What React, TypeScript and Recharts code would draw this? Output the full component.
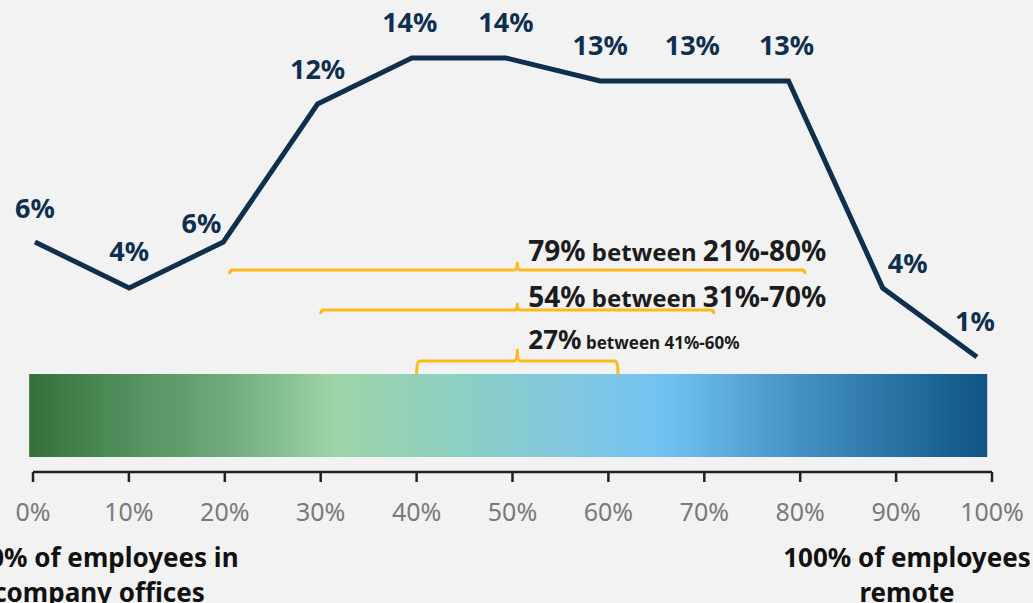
import React from 'react';
import {
  ComposedChart,
  Line,
  XAxis,
  YAxis,
  ReferenceArea,
  ReferenceLine,
  LabelList,
} from 'recharts';

// Share of time worked remotely (x) vs share of employees (y)
const remoteShare = [0, 10, 20, 30, 40, 50, 60, 70, 80, 90, 100];
const employeeShare = [6, 4, 6, 12, 14, 14, 13, 13, 13, 4, 1];
const axisTicks = [0, 10, 20, 30, 40, 50, 60, 70, 80, 90, 100];

// Summary ranges drawn as braces above the gradient bar
const rangeLow = [20.5, 30, 40];
const rangeHigh = [80.5, 71, 61];
const rangeTotals = ['79%', '54%', '27%'];
const rangeNames = ['21%-80%', '31%-70%', '41%-60%'];

const leftCaption = ['100% of employees in', 'company offices'];
const rightCaption = ['100% of employees', 'remote'];

const rows = remoteShare.map((x, i) => ({ x, share: employeeShare[i] }));

const FONT = '"Noto Sans", "Open Sans", sans-serif';
const NAVY = '#0f2f4e';
const GOLD = '#FFB81C';

// layout of each brace: level (y units), hook length, notch height, label gap, font sizes
const braceStyle = [
  { level: 4.78, hook: 4, notch: 7, gap: 9, big: 28, small: 24, range: 28 },
  { level: 3.04, hook: 4, notch: 6, gap: 3, big: 28, small: 24, range: 28 },
  { level: 0.83, hook: 13, notch: 11, gap: 12, big: 26, small: 17, range: 17 },
];

// label placement relative to each point
const labelShift: [number, number][] = [
  [0, -35], [0, -38], [-22, -20], [0, -36], [-2, -37], [0, -37],
  [0, -37], [-2, -37], [-2, -37], [25, -26], [-2, -37],
];

const renderPointLabel = (props: any) => {
  const { x, y, value, index } = props;
  const [dx, dy] = labelShift[index] || [0, -36];
  return (
    <text
      x={x + dx}
      y={y + dy}
      textAnchor="middle"
      dominantBaseline="central"
      fill={NAVY}
      fontFamily={FONT}
      fontWeight={700}
      fontSize={27}
    >
      {value}%
    </text>
  );
};

const makeBrace = (i: number) => (props: any) => {
  const { x1, x2, y1 } = props;
  const s = braceStyle[i];
  const xL = Math.min(x1, x2);
  const xR = Math.max(x1, x2);
  const yL = y1;
  const cx = (xL + xR) / 2;
  const r = 3;
  const d =
    `M ${xL} ${yL + s.hook} Q ${xL} ${yL} ${xL + r} ${yL} ` +
    `L ${cx - r} ${yL} Q ${cx} ${yL} ${cx} ${yL - s.notch} ` +
    `Q ${cx} ${yL} ${cx + r} ${yL} L ${xR - r} ${yL} ` +
    `Q ${xR} ${yL} ${xR} ${yL + s.hook}`;
  return (
    <g>
      <path d={d} fill="none" stroke={GOLD} strokeWidth={3} strokeLinejoin="round" />
      <text
        x={cx + 11}
        y={yL - s.gap}
        fill="#1c1c1c"
        fontFamily={FONT}
        fontWeight={700}
      >
        <tspan fontSize={s.big}>{rangeTotals[i]}</tspan>
        <tspan fontSize={s.small}> between </tspan>
        <tspan fontSize={s.range}>{rangeNames[i]}</tspan>
      </text>
    </g>
  );
};

const renderTick = (props: any) => {
  const { x, y, payload } = props;
  const v = payload.value;
  const caption = v === 0 ? leftCaption : v === 100 ? rightCaption : null;
  const cx = v === 0 ? x + 66 : x - 85;
  return (
    <g>
      <text
        x={x}
        y={y + 27}
        textAnchor="middle"
        dominantBaseline="central"
        fill="#7a7a7a"
        fontFamily={FONT}
        fontSize={25}
      >
        {v}%
      </text>
      {caption &&
        caption.map((line, k) => (
          <text
            key={k}
            x={cx}
            y={y + 73 + k * 35}
            textAnchor="middle"
            dominantBaseline="central"
            fill="#111"
            fontFamily={FONT}
            fontWeight={700}
            fontSize={26}
          >
            {line}
          </text>
        ))}
    </g>
  );
};

export default function App() {
  return (
    <div
      style={{
        position: 'absolute',
        left: 0,
        top: 0,
        width: 1033,
        height: 603,
        background: '#f2f2f2',
        overflow: 'hidden',
      }}
    >
      <ComposedChart
        width={1033}
        height={603}
        data={rows}
        margin={{ top: 35, right: 41, left: 33, bottom: 0 }}
      >
        <defs>
          <linearGradient id="workBar" x1="0" y1="0" x2="1" y2="0">
            <stop offset="0" stopColor="#356f3c" />
            <stop offset="0.08" stopColor="#4a8a55" />
            <stop offset="0.2" stopColor="#6ea878" />
            <stop offset="0.32" stopColor="#9dd5a6" />
            <stop offset="0.45" stopColor="#8ccfc3" />
            <stop offset="0.55" stopColor="#84c8dc" />
            <stop offset="0.66" stopColor="#72c3f2" />
            <stop offset="0.8" stopColor="#4593c4" />
            <stop offset="1" stopColor="#0e5484" />
          </linearGradient>
        </defs>
        <YAxis yAxisId="y" type="number" domain={[-4, 15]} allowDataOverflow hide />
        <XAxis
          xAxisId="pts"
          type="number"
          dataKey="x"
          domain={[-0.21, 101.6]}
          allowDataOverflow
          hide
        />
        <XAxis
          xAxisId="pct"
          type="number"
          dataKey="x"
          domain={[0, 100]}
          allowDataOverflow
          ticks={axisTicks}
          height={131}
          axisLine={{ stroke: '#222', strokeWidth: 2.5 }}
          tickLine={{ stroke: '#222', strokeWidth: 2.5 }}
          tickSize={10}
          tick={renderTick}
          interval={0}
        />
        <ReferenceArea
          xAxisId="pct"
          yAxisId="y"
          x1={-0.4}
          x2={99.5}
          y1={-3.35}
          y2={0.26}
          ifOverflow="visible"
          fill="url(#workBar)"
          fillOpacity={1}
          stroke="none"
        />
        {rangeLow.map((lo, i) => (
          <ReferenceLine
            key={i}
            xAxisId="pct"
            yAxisId="y"
            segment={[
              { x: lo, y: braceStyle[i].level },
              { x: rangeHigh[i], y: braceStyle[i].level },
            ]}
            ifOverflow="visible"
            shape={makeBrace(i)}
          />
        ))}
        <Line
          xAxisId="pts"
          yAxisId="y"
          type="linear"
          dataKey="share"
          stroke={NAVY}
          strokeWidth={5}
          dot={false}
          activeDot={false}
          isAnimationActive={false}
        >
          <LabelList dataKey="share" content={renderPointLabel} />
        </Line>
      </ComposedChart>
    </div>
  );
}
